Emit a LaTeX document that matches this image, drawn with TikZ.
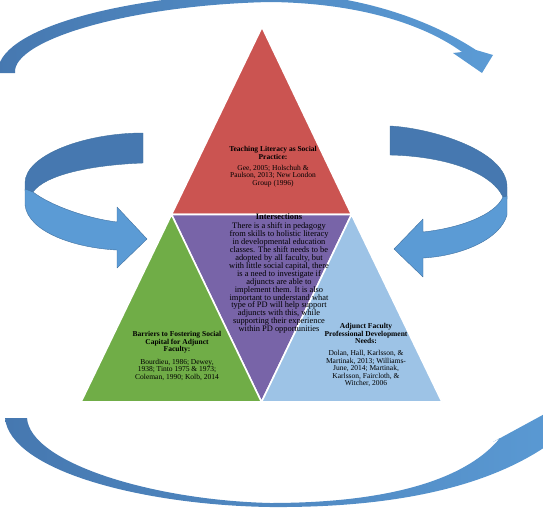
\documentclass[tikz,border=0pt]{standalone}
\usepackage{fontspec}
\setmainfont{Liberation Serif}
\definecolor{trired}{RGB}{203,84,81}
\definecolor{tripurple}{RGB}{120,100,168}
\definecolor{trigreen}{RGB}{112,173,71}
\definecolor{triblue}{RGB}{157,195,230}
\definecolor{arrowlight}{RGB}{91,155,213}
\definecolor{arrowdark}{RGB}{70,120,176}
\definecolor{arrowline}{RGB}{65,113,160}
\begin{document}
\begin{tikzpicture}[x=1pt,y=-1pt,
  tri/.style={draw=white,line width=1.6pt,line join=round},
  band/.style={draw=arrowline,line width=0.4pt,line join=round},
  fadeband/.style={left color=arrowdark,right color=arrowlight},
  lbl/.style={inner sep=0pt,align=center,anchor=north,
    font={\fontsize{7.5}{7.5}\selectfont\lineskiplimit=-10pt}},
  intlbl/.style={inner sep=0pt,align=center,anchor=north,
    font={\fontsize{8.4}{7.9}\selectfont\lineskiplimit=-10pt}},
]
\useasboundingbox (0,0) rectangle (543,519);
\clip (0,0) rectangle (543,519);

% triangle corners
\coordinate (A) at (262,27);
\coordinate (BL) at (81,402);
\coordinate (BR) at (442,402);
\coordinate (ML) at (171.5,214.5);
\coordinate (MR) at (351.5,214.5);
\coordinate (MB) at (261.5,402);

\path[tri,fill=trired] (A) -- (ML) -- (MR) -- cycle;
\path[tri,fill=tripurple] (ML) -- (MR) -- (MB) -- cycle;
\path[tri,fill=trigreen] (ML) -- (MB) -- (BL) -- cycle;
\path[tri,fill=triblue] (MR) -- (BR) -- (MB) -- cycle;

% texts
\node[lbl] (tred) at (273,146.4) {\textbf{Teaching Literacy as Social}\\\textbf{Practice:}\\[3.3pt]Gee, 2005; Holschuh \&\\Paulson, 2013; New London\\Group (1996)};

\node[intlbl] (tint) at (279,213) {\textbf{Intersections}\\[2pt]There is a shift in pedagogy\\from skills to holistic literacy\\in developmental education\\classes. The shift needs to be\\adopted by all faculty, but\\with little social capital, there\\is a need to investigate if\\adjuncts are able to\\implement them. It is also\\important to understand what\\type of PD will help support\\adjuncts with this, while\\supporting their experience\\within PD opportunities};

\node[lbl] (tgreen) at (177,331.4) {\textbf{Barriers to Fostering Social}\\\textbf{Capital for Adjunct}\\\textbf{Faculty:}\\[5pt]Bourdieu, 1986; Dewey,\\1938; Tinto 1975 \& 1973;\\Coleman, 1990; Kolb, 2014};

\node[lbl] (tblue) at (366,323.4) {\textbf{Adjunct Faculty}\\\textbf{Professional Development}\\\textbf{Needs:}\\[4.5pt]Dolan, Hall, Karlsson, \&\\Martinak, 2013; Williams-\\June, 2014; Martinak,\\Karlsson, Faircloth, \&\\Witcher, 2006};

% left ribbon arrow
\path[band,fill=arrowdark] (143,133) .. controls (85,133) and (25,155) .. (25,183) -- (25,191) -- (33,192) .. controls (45,175) and (90,165) .. (143,163) -- cycle;
\path[band,fill=arrowlight] (25,189) -- (25,205) .. controls (28,232) and (75,248) .. (117,250) -- (117,268) -- (147,239) -- (117,207) -- (117,222) .. controls (85,218) and (50,205) .. (33,192) -- cycle;

% right ribbon arrow
\path[band,fill=arrowdark] (390,126) .. controls (430,128) and (507,150) .. (507,187) -- (507,199) -- (503,197) .. controls (490,170) and (440,156) .. (390,155) -- cycle;
\path[band,fill=arrowlight] (507,196) -- (507,215) .. controls (500,240) and (460,256) .. (423,258) -- (423,277) -- (394,249) -- (423,219) -- (423,232) .. controls (460,228) and (495,215) .. (503,197) -- cycle;

% top arc arrow
\path[fadeband] (-2,73) .. controls (-5,30) and (120,-5) .. (270,-8) .. controls (360,-6) and (430,20) .. (476,50) -- (493,55) -- (482,73) -- (453,53) -- (462,52) .. controls (425,25) and (360,3) .. (270,2) .. controls (130,5) and (12,40) .. (15,73) -- cycle;

% bottom arc arrow
\path[fadeband] (5,418) .. controls (10,470) and (140,505) .. (270,507) .. controls (400,508) and (490,485) .. (548,445) -- (565,460) -- (585,392) -- (493,442) -- (500,438) .. controls (470,475) and (400,503) .. (270,503) .. controls (150,500) and (30,462) .. (27,418) -- cycle;
\end{tikzpicture}
\end{document}
